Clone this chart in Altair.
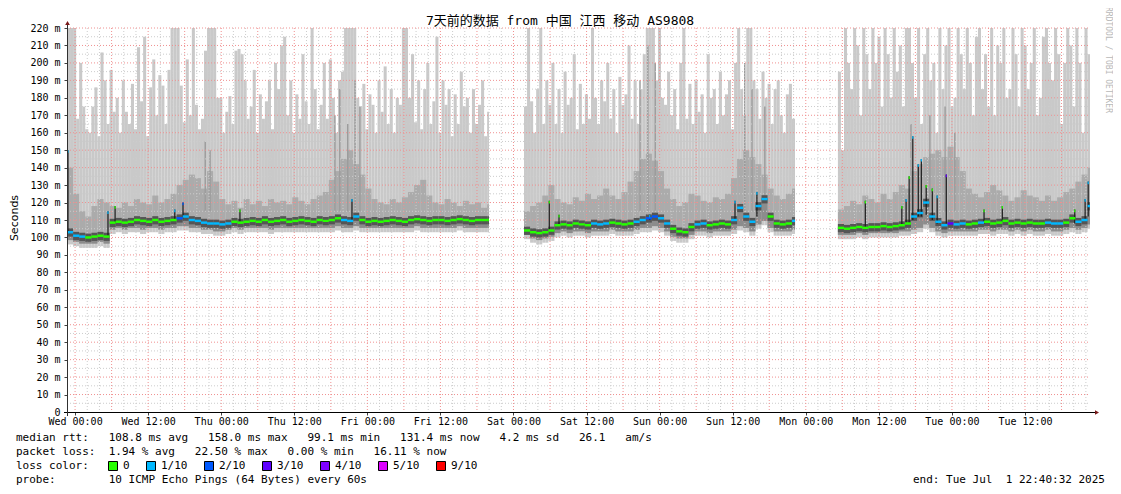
import altair as alt
import pandas as pd

# ---------------- time frame (hours since Tue Jun 24 22:40:32) ----------------
SPAN_H = 168.0
WED0_H = 1.0 + 19 / 60 + 28 / 3600  # Wed 00:00
X_LABELS = ["Wed 00:00", "Wed 12:00", "Thu 00:00", "Thu 12:00", "Fri 00:00",
            "Fri 12:00", "Sat 00:00", "Sat 12:00", "Sun 00:00", "Sun 12:00",
            "Mon 00:00", "Mon 12:00", "Tue 00:00", "Tue 12:00"]

# segments with data (hours since start)
SEG_START_H = [0.0, 75.05, 126.6]
SEG_END_H = [69.3, 119.56, 168.0]

LOSS_KEYS = [0, 1, 2, 3, 4, 5, 9]
LOSS_LABELS = ["0", "1/10", "2/10", "3/10", "4/10", "5/10", "9/10"]
LOSS_HEX = ["#26ff00", "#00b8ff", "#0059ff", "#5e00ff", "#7e00ff", "#dd00ff", "#ff0000"]

# ---------------- segment A (hourly) ----------------
MED_A = [103, 101, 100.5, 100, 100.5, 101, 100.5,
         108.5, 109, 108.5, 109, 110, 109.5, 109, 110, 109, 109.5, 110, 111, 112,
         110, 109.5, 108.5, 108, 108, 107.5, 108, 109, 108.5, 109,
         109.5, 109, 110, 109, 109.5, 110, 109, 109.5, 110, 109.5,
         109, 110, 109.5, 110, 111, 110, 109.5, 112, 110, 109,
         109.5, 109, 109.5, 110, 109.5, 109, 110, 110.5, 110, 109.5,
         110, 110, 109.5, 110, 110.5, 110, 109.5, 110, 110, 110]
LOSS_A = [1, 1, 1, 0, 0, 0, 0,
          0, 0, 0, 0, 0, 0, 0, 0, 0, 0, 0, 2, 1,
          1, 1, 1, 1, 1, 1, 1, 0, 0, 0,
          0, 0, 0, 0, 0, 0, 0, 0, 0, 0,
          0, 0, 0, 0, 0, 1, 1, 1, 0, 0,
          0, 0, 0, 0, 0, 0, 0, 0, 0, 0,
          0, 0, 0, 0, 0, 0, 0, 0, 0, 0]
MID_A = [140, 125, 115, 112, 118, 122, 120,
         118, 117, 120, 118, 122, 120, 119, 124, 120, 122, 125, 130, 133,
         136, 134, 128, 138, 132, 122, 119, 121, 117, 122,
         119, 121, 118, 122, 120, 121, 119, 123, 121, 119,
         122, 124, 126, 133, 138, 145, 150, 142, 136, 128,
         122, 120, 119, 122, 120, 123, 126, 130, 133, 124,
         120, 119, 122, 120, 118, 121, 119, 120, 117, 119]
LO_A = [97, 96, 95, 95, 95, 96, 95,
        103, 104, 103, 104, 104, 103, 104, 104, 103, 104, 104, 105, 105,
        104, 104, 103, 103, 102, 102, 103, 104, 103, 104,
        104, 104, 104, 103, 104, 104, 104, 104, 104, 104,
        104, 104, 104, 104, 105, 104, 104, 105, 104, 104,
        104, 104, 104, 104, 104, 104, 104, 105, 104, 104,
        104, 104, 104, 104, 105, 104, 104, 104, 104, 104]
LIGHT_A = [220, 220, 220, 168, 200, 175, 162, 160, 175, 186,
           158, 206, 190, 165, 196, 172, 180, 160, 190, 172,
           165, 188, 162, 209, 178, 215, 158, 186, 202, 170,
           193, 187, 165, 196, 220, 220, 220, 187, 166, 202,
           170, 220, 176, 162, 168, 207, 220, 220, 220, 180,
           180, 160, 172, 181, 165, 207, 208, 205, 190, 168,
           175, 196, 160, 182, 168, 178, 190, 162, 200, 185,
           210, 215, 170, 190, 160, 182, 168, 205, 178, 165,
           220, 185, 162, 176, 200, 168, 202, 180, 160, 190,
           195, 220, 220, 220, 220, 180, 175, 188, 162, 182,
           176, 160, 190, 172, 198, 165, 185, 160, 180, 176,
           220, 220, 180, 205, 166, 190, 162, 185, 200, 165,
           178, 215, 160, 190, 176, 185, 158, 182, 165, 195,
           175, 180, 160, 185, 165, 176, 190, 158, 172]

# ---------------- segment B (hourly) ----------------
MED_B = [104, 103, 102.5, 103, 104, 107, 107.5, 107, 108, 107.5,
         107, 108, 107.5, 108, 108.5, 108, 107.5, 108, 109, 110,
         111, 112, 111, 108, 105, 103.5, 103, 106, 107.5, 108,
         107, 107.5, 108, 107.5, 110, 117, 112, 109, 118, 122,
         112, 108, 107.5, 108, 109.5]
LOSS_B = [0, 0, 0, 0, 0, 0, 0, 0, 0, 0,
          0, 1, 1, 1, 0, 0, 0, 0, 1, 1,
          2, 2, 1, 1, 0, 0, 0, 0, 1, 1,
          0, 0, 0, 0, 1, 1, 1, 1, 1, 1,
          0, 0, 0, 0, 1]
MID_B = [115, 118, 120, 124, 130, 122, 120, 119, 123, 121,
         125, 122, 124, 128, 124, 122, 126, 132, 138, 145,
         148, 144, 138, 128, 122, 118, 120, 125, 124, 121,
         120, 123, 122, 125, 134, 145, 150, 146, 142, 136,
         128, 124, 122, 125, 128]
LO_B = [100, 98, 97, 98, 99, 101, 102, 101, 102, 102,
        101, 102, 102, 102, 103, 102, 102, 102, 103, 104,
        104, 105, 104, 102, 99, 98, 98, 100, 102, 102,
        101, 102, 102, 102, 103, 105, 104, 102, 106, 108,
        104, 102, 102, 102, 103]
LIGHT_B = [175, 220, 178, 160, 185, 220, 165, 190, 176, 200,
           165, 185, 160, 195, 176, 180, 205, 162, 188, 165,
           182, 168, 220, 180, 165, 190, 178, 200, 168, 185,
           160, 192, 176, 182, 210, 168, 190, 165, 185, 205,
           220, 220, 220, 190, 220, 180, 176, 195, 170, 185,
           162, 200, 220, 168, 188, 165, 190, 172, 182, 160,
           205, 180, 185, 165, 195, 170, 182, 190, 162, 200,
           220, 185, 170, 220, 220, 190, 185, 168, 195, 180,
           188, 165, 185, 190, 170, 160, 182, 188, 168]

# ---------------- segment C (hourly) ----------------
MED_C = [105.5, 105, 105.5, 106, 105.5, 106, 106, 106.5, 106, 106.5,
         107, 108, 112, 114, 120, 112, 109, 107, 108, 107.5,
         108, 107.5, 108, 108.5, 109, 108, 108.5, 109.5, 108, 108.5,
         108, 108.5, 108, 108, 108.5, 108, 108, 108.5, 111, 109,
         110, 118]
LOSS_C = [0, 0, 0, 0, 0, 0, 0, 0, 0, 0,
          0, 0, 1, 1, 1, 1, 1, 1, 3, 1,
          1, 0, 0, 1, 0, 0, 0, 0, 0, 0,
          0, 0, 0, 0, 1, 1, 1, 0, 0, 1,
          1, 1]
MID_C = [116, 118, 121, 119, 124, 122, 120, 125, 122, 126,
         130, 128, 138, 142, 146, 148, 150, 146, 152, 146,
         138, 128, 125, 123, 126, 130, 127, 124, 121, 123,
         127, 124, 123, 121, 124, 121, 123, 126, 128, 132,
         136, 140]
LO_C = [100, 100, 100, 101, 100, 101, 101, 101, 101, 101,
        102, 102, 103, 104, 106, 104, 102, 101, 102, 102,
        102, 102, 102, 103, 103, 102, 103, 103, 102, 103,
        102, 103, 102, 102, 103, 102, 102, 103, 104, 103,
        104, 106]
LIGHT_C = [195, 150, 220, 200, 185, 220, 210, 170, 220, 205,
           185, 220, 200, 215, 175, 220, 205, 180, 220, 195,
           210, 175, 220, 220, 200, 180, 220, 165, 205, 220,
           190, 200, 160, 220, 185, 210, 220, 175, 180, 220,
           205, 185, 220, 200, 170, 215, 220, 185, 205, 175,
           220, 170, 210, 200, 220, 180, 185, 220, 205, 175,
           220, 210, 185, 200, 220, 170, 180, 215, 220, 200,
           190, 220, 205, 165, 200, 220, 210, 175, 220, 200,
           160, 220, 205]

# ---------------- thin darker smoke spikes ----------------
GSPIKE_H = [22.7, 23.5, 44.0, 44.8, 46.1, 47.3, 48.1,
            94.1, 95.4, 96.6, 111.3, 112.5, 114.6,
            138.6, 141.7, 144.2, 145.8]
GSPIKE_TOP = [155, 150, 170, 185, 165, 190, 175,
              190, 210, 200, 200, 185, 175,
              165, 170, 175, 160]

# ---------------- median spikes ----------------
SPIKE_H = [0.16, 6.73, 7.9, 17.7, 19.05, 28.4, 46.8,
           79.2, 80.8, 95.7, 109.7, 113.3,
           131.1, 137.1, 137.8, 138.3, 138.9, 139.8, 140.3, 141.1, 142.1, 142.9, 144.4,
           150.6, 153.6, 165.5, 167.2, 167.7]
SPIKE_BASE = [103, 101, 108, 110, 111, 109, 110,
              104, 107, 110, 110, 112,
              106, 107, 108, 108, 110, 112, 112, 113, 110, 108, 108,
              108, 109, 108, 110, 112]
SPIKE_TOP = [150, 115, 118, 116, 120, 116, 122,
             121, 113, 113, 121, 126,
             121, 118, 122, 135, 158, 142, 145, 130, 128, 124, 136,
             116, 118, 116, 122, 132]
SPIKE_LOSS = [1, 1, 0, 1, 2, 0, 1,
              0, 0, 1, 1, 1,
              0, 0, 1, 0, 1, 1, 1, 0, 0, 1, 3,
              0, 0, 0, 1, 1]

TITLE = "7天前的数据 from 中国 江西 移动 AS9808"
LINE1 = "median rtt:   108.8 ms avg   158.0 ms max   99.1 ms min   131.4 ms now   4.2 ms sd   26.1   am/s"
LINE2 = "packet loss:  1.94 % avg   22.50 % max   0.00 % min   16.11 % now"
LINE3 = "loss color:"
LINE4 = "probe:        10 ICMP Echo Pings (64 Bytes) every 60s"
END_TXT = "end: Tue Jul  1 22:40:32 2025"
WATERMARK = "RRDTOOL / TOBI OETIKER"

COLOR_OF = dict(zip(LOSS_KEYS, LOSS_HEX))

# ---------------- build tables ----------------
hour_rows, light_rows = [], []
for seg, (med, loss, mid, lo, light) in enumerate([
        (MED_A, LOSS_A, MID_A, LO_A, LIGHT_A),
        (MED_B, LOSS_B, MID_B, LO_B, LIGHT_B),
        (MED_C, LOSS_C, MID_C, LO_C, LIGHT_C)]):
    h0, h1 = SEG_START_H[seg], SEG_END_H[seg]
    for i in range(len(med)):
        a, b = h0 + i, min(h0 + i + 1, h1)
        hour_rows.append({"t": a, "t1": b, "med": med[i],
                          "mlo": med[i] - 0.7, "mhi": med[i] + 0.7,
                          "dlo": med[i] - 2.5, "dhi": med[i] + 2.2,
                          "loss": COLOR_OF[loss[i]], "mid": mid[i],
                          "lo": lo[i], "lo1": lo[i] + 1.5})
    for j in range(len(light)):
        a = h0 + 0.5 * j
        b = min(a + 0.5, h1)
        light_rows.append({"t": a, "t1": b, "top": light[j], "bot": lo[j // 2] - 1})
hours = pd.DataFrame(hour_rows)
lights = pd.DataFrame(light_rows)
spikes = pd.DataFrame({
    "t": [h - 0.1 for h in SPIKE_H], "t1": [h + 0.1 for h in SPIKE_H],
    "base": SPIKE_BASE, "top": SPIKE_TOP,
    "tlo": [v - 1.5 for v in SPIKE_TOP],
    "loss": [COLOR_OF[k] for k in SPIKE_LOSS]})
gspikes = pd.DataFrame({
    "t": [h - 0.12 for h in GSPIKE_H], "t1": [h + 0.12 for h in GSPIKE_H],
    "base": [115] * len(GSPIKE_H), "top": GSPIKE_TOP})

label_pos = [WED0_H + 12 * k for k in range(len(X_LABELS))]
major_x = pd.DataFrame({"t": [WED0_H + 6 * k for k in range(28) if WED0_H + 6 * k <= SPAN_H]})
minor_x = pd.DataFrame({"t": [WED0_H + 2 * k for k in range(84)
                              if k % 3 != 0 and WED0_H + 2 * k <= SPAN_H]})
major_y = pd.DataFrame({"v": list(range(10, 230, 10))})
minor_y = pd.DataFrame({"v": list(range(5, 220, 10))})

MONO = "DejaVu Sans Mono, Noto Sans CJK SC"
XS = alt.Scale(domain=[0, SPAN_H], nice=False, zero=False)
YS = alt.Scale(domain=[0, 220], nice=False)

label_js = "[" + ",".join(f"'{s}'" for s in X_LABELS) + "]"
x_axis = alt.Axis(values=label_pos,
                  labelExpr=f"{label_js}[round((datum.value - {WED0_H}) / 12)]",
                  labelFont="DejaVu Sans Mono", labelFontSize=10, labelColor="#000",
                  labelFlush=False, labelOverlap=False, labelPadding=1,
                  tickSize=3, tickColor="#404040", domain=False, grid=False, title=None)
y_axis = alt.Axis(values=list(range(0, 230, 10)),
                  labelExpr="datum.value == 0 ? '0' : datum.value + ' m'",
                  labelFont="DejaVu Sans Mono", labelFontSize=10, labelColor="#000",
                  labelPadding=4, tickSize=3, tickColor="#404040", domain=False,
                  labelFlush=False, labelOverlap=False,
                  grid=False, title=None)


def X(field="t"):
    return alt.X(f"{field}:Q", scale=XS, axis=x_axis)


def Y(field):
    return alt.Y(f"{field}:Q", scale=YS, axis=y_axis)


light = alt.Chart(lights).mark_rect(color="#c9c9c9").encode(
    x=X(), x2="t1", y=Y("bot"), y2="top")
mid = alt.Chart(hours).mark_rect(color="#ababab").encode(
    x=X(), x2="t1", y=Y("lo1"), y2="mid")
gspike = alt.Chart(gspikes).mark_rect(color="#9c9c9c").encode(
    x=X(), x2="t1", y=Y("base"), y2="top")
lower = alt.Chart(hours).mark_rect(color="#8c8c8c").encode(
    x=X(), x2="t1", y=Y("lo1"), y2="med")
dark = alt.Chart(hours).mark_rect(color="#555555").encode(
    x=X(), x2="t1", y=Y("dlo"), y2="dhi")

gx_major = alt.Chart(major_x).mark_rule(color="#f09090", strokeDash=[1, 2], strokeWidth=1).encode(
    x=X(), y=alt.value(0), y2=alt.value(384))
gx_minor = alt.Chart(minor_x).mark_rule(color="#cccccc", strokeDash=[1, 2], strokeWidth=1).encode(
    x=X(), y=alt.value(0), y2=alt.value(384))
gy_major = alt.Chart(major_y).mark_rule(color="#f09090", strokeDash=[1, 2], strokeWidth=1).encode(
    y=Y("v"), x=alt.value(0), x2=alt.value(1023))
gy_minor = alt.Chart(minor_y).mark_rule(color="#cccccc", strokeDash=[1, 2], strokeWidth=1).encode(
    y=Y("v"), x=alt.value(0), x2=alt.value(1023))

spike = alt.Chart(spikes).mark_rect(color="#1c1c1c").encode(
    x=X(), x2="t1", y=Y("base"), y2="top")
spike_top = alt.Chart(spikes).mark_rect().encode(
    x=X(), x2="t1", y=Y("tlo"), y2="top", color=alt.Color("loss:N", scale=None))
median = alt.Chart(hours).mark_rect().encode(
    x=X(), x2="t1", y=Y("mlo"), y2="mhi", color=alt.Color("loss:N", scale=None))

one = pd.DataFrame({"k": [0]})
x_line = alt.Chart(one).mark_rule(color="#000000", strokeWidth=1).encode(
    x=alt.value(-3), x2=alt.value(1029), y=alt.value(384.5))
y_line = alt.Chart(one).mark_rule(color="#303030", strokeWidth=1).encode(
    x=alt.value(0.5), y=alt.value(-5), y2=alt.value(388))
arrow_x = alt.Chart(one).mark_point(shape="triangle-right", filled=True, size=22,
                                    color="#7a1a1a", opacity=1).encode(
    x=alt.value(1030), y=alt.value(384.5))
arrow_y = alt.Chart(one).mark_point(shape="triangle-up", filled=True, size=22,
                                    color="#7a1a1a", opacity=1).encode(
    x=alt.value(0.5), y=alt.value(-5))


def txt(s, x, y, size=11, align="left", font="DejaVu Sans Mono", angle=0, color="#000"):
    return alt.Chart(pd.DataFrame({"s": [s.replace(" ", "\u00a0")]})).mark_text(
        align=align, baseline="middle", font=font, fontSize=size, angle=angle,
        color=color).encode(text="s:N", x=alt.value(x), y=alt.value(y))


texts = [
    txt(TITLE, 493, -7, size=13, align="center", font=MONO),
    txt("Seconds", -52, 190, size=11, align="center", font="DejaVu Sans", angle=270),
    txt(LINE1, -51, 410),
    txt(LINE2, -51, 424),
    txt(LINE3, -51, 438),
    txt(LINE4, -51, 452),
    txt(END_TXT, 1038, 452, align="right"),
    txt(WATERMARK, 1041, 32, size=8, align="center", angle=90, color="#b8b8b8"),
]

SQ_LEFT = [108, 146, 204, 262, 320, 378, 436]
legend = []
for left, lab, col in zip(SQ_LEFT, LOSS_LABELS, LOSS_HEX):
    legend.append(alt.Chart(one).mark_rect(color=col, stroke="#000", strokeWidth=1).encode(
        x=alt.value(left - 67 + 0.5), x2=alt.value(left - 67 + 9.5),
        y=alt.value(433.5), y2=alt.value(442.5)))
    legend.append(txt(lab, left - 67 + 15, 438))

chart = alt.layer(
    light, mid, gspike, lower, gx_minor, gy_minor, gx_major, gy_major, dark,
    spike, median, spike_top, x_line, y_line, arrow_x, arrow_y,
    *texts, *legend
).properties(
    width=1023, height=384,
    padding={"left": 59, "top": 20, "right": 23, "bottom": 76},
    autosize=alt.AutoSizeParams(type="none"),
    background="#ffffff",
).configure_view(stroke=None)

chart.save("out.html", embed_options={"renderer": "svg", "actions": False})
